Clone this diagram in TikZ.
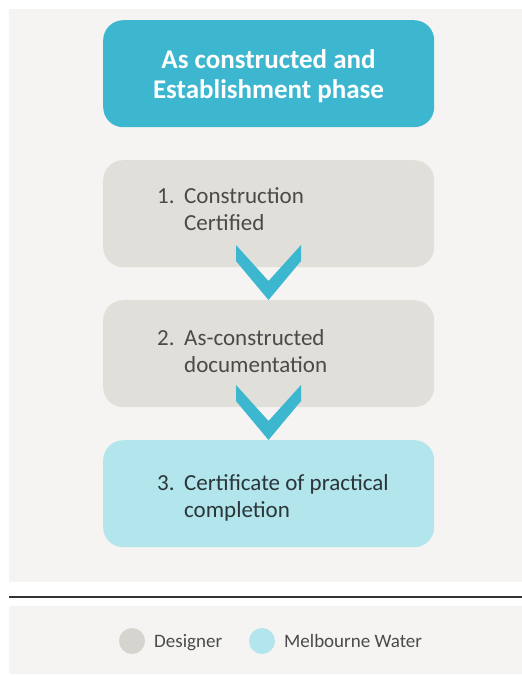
\documentclass[tikz,border=0pt]{standalone}
\usepackage{fontspec}
\setmainfont{Carlito}
\definecolor{panel}{HTML}{F5F4F2}
\definecolor{teal}{HTML}{3DB7CF}
\definecolor{sand}{HTML}{E1DFD9}
\definecolor{ice}{HTML}{B2E5EC}
\definecolor{ink}{HTML}{4A4A4A}
\definecolor{rule}{HTML}{333333}
\tikzset{
  stagebox/.style={rounded corners=20pt, minimum width=331pt, minimum height=107pt, inner sep=0pt, anchor=north west},
  bodytext/.style={font=\fontsize{23}{28}\selectfont, text=ink, anchor=base west, inner sep=0pt},
  chev/.style={fill=teal, draw=none},
  legtext/.style={font=\fontsize{19}{22}\selectfont, text=ink, anchor=base west, inner sep=0pt},
}
\begin{document}
\begin{tikzpicture}[x=1pt,y=-1pt]
\useasboundingbox (0,0) rectangle (522,675);
\fill[white] (0,0) rectangle (522,675);
% panels
\fill[panel] (9,9) rectangle (522,582);
\fill[panel] (9,606) rectangle (522,674);
\draw[rule, line width=2.5pt] (9,597) -- (522,597);
% title
\node[stagebox, fill=teal] (title) at (103,20) {};
\node[font=\bfseries\fontsize{27}{30}\selectfont, text=white, align=center, anchor=base, inner sep=0pt] (ttext) at (268.5,98) {As constructed and\\Establishment phase};
% boxes
\node[stagebox, fill=sand] (b1) at (103,160) {};
\node[stagebox, fill=sand] (b2) at (103,300) {};
\node[stagebox, fill=ice] (b3) at (103,440) {};
% texts
\node[bodytext] (n1) at (157,203) {1.};
\node[bodytext] (t1a) at (184,203) {Construction};
\node[bodytext] (t1b) at (184,230) {Certified};
\node[bodytext] (n2) at (157,345) {2.};
\node[bodytext] (t2a) at (184,345) {As-constructed};
\node[bodytext] (t2b) at (184,372) {documentation};
\node[bodytext, text=ink!85!teal!60!black] (n3) at (157,490) {3.};
\node[bodytext, text=ink!85!teal!60!black] (t3a) at (184,490) {Certificate of practical};
\node[bodytext, text=ink!85!teal!60!black] (t3b) at (184,517) {completion};
% chevrons
\foreach \y in {245,385}{
  \fill[chev] (236,\y) -- (268.5,\y+36) -- (301,\y) -- (301,\y+16) -- (268.5,\y+55) -- (236,\y+16) -- cycle;
}
% legend
\node[circle, fill=sand!95!black, minimum size=26pt, inner sep=0pt] (c1) at (132,641) {};
\node[legtext] (l1) at (154,647.5) {Designer};
\node[circle, fill=ice, minimum size=26pt, inner sep=0pt] (c2) at (262,641) {};
\node[legtext] (l2) at (284,647.5) {Melbourne Water};
\end{tikzpicture}
\end{document}
